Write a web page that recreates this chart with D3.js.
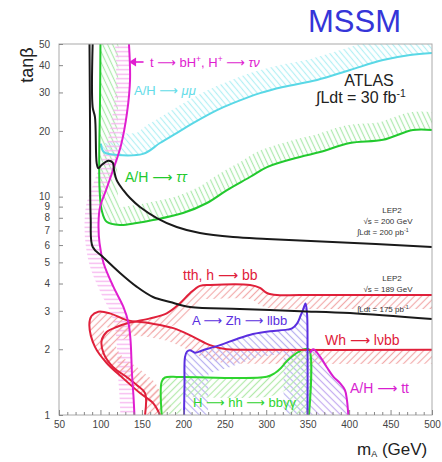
<!DOCTYPE html>
<html><head><meta charset="utf-8">
<script src="https://cdn.jsdelivr.net/npm/d3@7"></script>
<style>body{margin:0;background:#fff;} svg{display:block;font-family:"Liberation Sans",Arial,sans-serif;}</style>
</head><body><svg id="c" width="442" height="462"></svg>
<script>
const xTicks = [50,100,150,200,250,300,350,400,450,500];
const yTicks = [1,2,3,4,5,6,7,8,9,10,20,30,40,50];

const lep200 = [[90.6,50],[90.6,25.7],[93.4,23.1],[95.5,14.2],[97.4,13.5],[101.5,13.96],[109.5,14.6],[114.8,14.3],[116.4,13.2],[119.6,11.9],[127.6,10.7],[135.7,9.85],[147.7,8.96],[168,7.98],[192,7.26],[220,6.81],[260,6.53],[301,6.40],[380,6.2],[500,5.88]];
const lep189 = [[86.8,50],[87.5,20],[88.2,8],[90.7,5.88],[103,5.29],[123.6,4.47],[144,3.86],[163.4,3.47],[184,3.29],[208,3.12],[268,3.06],[341,2.99],[401,2.93],[500,2.75]];
const muMu = [[100.5,17.5],[103,16.2],[106.7,15.8],[151.3,15.7],[171.8,17.6],[192.4,19.6],[211.7,21.7],[240.6,24.9],[259.9,26.8],[292.5,29.8],[320.2,31.8],[361.3,34.2],[401,38],[440.9,42.2],[473.5,44.5],[500,45.5]];
const tauTau = [[100,50],[99.5,27.7],[98.5,15],[99,10.7],[101.5,8.68],[107.5,7.67],[123.6,7.41],[143.7,7.57],[163.4,7.81],[199.6,8.41],[228.5,9.35],[252.7,10.72],[280.4,12.3],[301,13.66],[340.7,15.2],[364.9,16],[401,17.6],[440.9,18.2],[477,20.2],[500,20.2]];
const chargedH = [[134.4,50],[135.7,34.2],[132,24.1],[124.8,17.2],[115.1,13.2],[106.7,10.7],[99.5,8.96],[97.7,7.57],[98.9,6.13],[103.7,4.97],[115.7,3.86],[127.8,3.12],[133.8,2.64],[136.3,2.2],[138,1.56],[139.9,1.21],[141,1]];
const tthBB = [[153.8,1],[153.8,1.26],[144.1,1.37],[132,1.49],[115.1,1.66],[103.7,1.92],[101.5,2.2],[107.5,2.4],[119.6,2.53],[135.7,2.65],[159.8,2.77],[179.9,2.92],[196,3.25],[208,3.61],[220.1,3.9],[232.2,3.94],[280.4,3.94],[292.5,3.82],[300.9,3.62],[313,3.54],[340.7,3.54],[500,3.54]];
const whBB = [[171.8,1],[163.8,1.13],[147.7,1.26],[127.6,1.47],[107.5,1.73],[93.4,2.05],[86.6,2.58],[89.2,2.84],[97.4,2.97],[111.5,2.92],[131.7,2.72],[159.8,2.63],[187.9,2.5],[212,2.28],[232.2,2.09],[252.3,2.0],[268.4,1.99],[500,1.99]];
const zhBB = [[200.8,1],[201.4,1.37],[202,1.84],[204.4,1.95],[208,1.98],[214,1.93],[223.7,1.98],[244.2,2.09],[264.7,2.23],[284,2.35],[304.6,2.42],[325.1,2.46],[331.1,2.49],[337.1,2.62],[341.3,2.84],[344.4,3.03],[347.4,3.24],[349.2,2.93],[349.8,2.45],[349.8,1]];
const hhBBgg = [[173.9,1],[173.9,1.42],[177.9,1.485],[196,1.493],[300.6,1.497],[310.6,1.557],[317.8,1.641],[325.1,1.767],[332.7,1.873],[338.7,1.943],[344.7,1.994],[351.6,1.994],[351.6,1]];
const ttbar = [[352.8,1],[352.8,1.92],[356.8,2.0],[364.9,1.85],[372.9,1.66],[380.9,1.5],[389,1.4],[395,1.3],[397.4,1.17],[399,1]];

const svg = d3.select("#c");
const x = d3.scaleLinear().domain([50,500]).range([59,432]);
const y = d3.scaleLog().domain([1,50]).range([415,44]);
const defs = svg.append("defs");

function pattern(id,color,angle,gap,sw){
  const p=defs.append("pattern").attr("id",id).attr("patternUnits","userSpaceOnUse")
    .attr("width",gap).attr("height",gap).attr("patternTransform",`rotate(${angle})`);
  p.append("line").attr("x1",gap/2).attr("y1",0).attr("x2",gap/2).attr("y2",gap).attr("stroke",color).attr("stroke-width",sw);
}
pattern("pCyan","#b4f0f4",-40,4.5,1.2);
pattern("pGreen","#ade9ad",-25,4.5,1.2);
pattern("pMag","#f6b4ee",90,4.5,1.3);
pattern("pRed","#f2acac",45,5,1.2);
pattern("pBlue","#b8b0f0",-45,5,1.2);
pattern("pTT","#c4acf0",-45,5,1.2);
pattern("pHH","#b4eaac",45,5,1.2);

defs.append("clipPath").attr("id","frame").append("rect").attr("x",59).attr("y",44).attr("width",373).attr("height",371);

const line = d3.line().x(d=>x(d[0])).y(d=>y(d[1])).curve(d3.curveCatmullRom.alpha(0.5));
const P = d=>`${x(d[0])},${y(d[1])}`;

const plot = svg.append("g").attr("clip-path","url(#frame)");
const bands = [
  {id:"cMu",curve:muMu,extra:[[500,50],[100.5,50]],pat:"pCyan",w:22},
  {id:"cTau",curve:tauTau,extra:[[500,50]],pat:"pGreen",w:18},
  {id:"cHpm",curve:chargedH,extra:[[50,1],[50,50]],pat:"pMag",w:14},
  {id:"cTth",curve:tthBB,extra:[[500,1]],pat:"pRed",w:14},
  {id:"cWh",curve:whBB,extra:[[500,1]],pat:"pRed",w:14},
  {id:"cZh",curve:zhBB,extra:[],pat:"pBlue",w:24},
  {id:"cHh",curve:hhBBgg,extra:[],pat:"pHH",w:20},
  {id:"cTt",curve:ttbar,extra:[],pat:"pTT",w:30}
];
bands.forEach(b=>{
  defs.append("clipPath").attr("id",b.id).append("path")
    .attr("d", line(b.curve) + b.extra.map(p=>"L"+P(p)).join("") + "Z");
  plot.append("g").attr("clip-path",`url(#${b.id})`).append("path")
    .attr("d", line(b.curve)).attr("fill","none").attr("stroke",`url(#${b.pat})`)
    .attr("stroke-width",2*b.w).attr("stroke-linejoin","round");
});

const curves = [
  {d:muMu,c:"#5ad8e6"},
  {d:tauTau,c:"#22c92e"},
  {d:hhBBgg,c:"#2ed42e"},
  {d:tthBB,c:"#e0203a"},
  {d:whBB,c:"#e0203a"},
  {d:zhBB,c:"#5a2ee0"},
  {d:ttbar.slice(1),c:"#d81ed0"},
  {d:chargedH,c:"#e01ed0"},
  {d:lep200,c:"#1a1a1a"},
  {d:lep189,c:"#1a1a1a"}
];
curves.forEach(k=>{
  plot.append("path").attr("d",line(k.d)).attr("fill","none").attr("stroke",k.c)
    .attr("stroke-width",2).attr("stroke-linejoin","round");
});

// frame
svg.append("rect").attr("x",59).attr("y",44).attr("width",373).attr("height",371)
  .attr("fill","none").attr("stroke","#aaa").attr("stroke-width",1);

// axes
const xa = svg.append("g").attr("transform","translate(0,415)")
  .call(d3.axisBottom(x).tickValues(d3.range(50,501,10)).tickSize(-3).tickPadding(6)
    .tickFormat(d=> xTicks.includes(d)? d : ""));
xa.select(".domain").remove();
xa.selectAll(".tick line").attr("stroke","#888").attr("y2",d=>xTicks.includes(d)?-5:-3);
xa.selectAll(".tick text").attr("font-size",10).attr("fill","#444").attr("font-family","Liberation Sans, Arial, sans-serif");

const ya = svg.append("g").attr("transform","translate(59,0)")
  .call(d3.axisLeft(y).tickValues(yTicks).tickSize(-4).tickPadding(9).tickFormat(d3.format("d")));
ya.select(".domain").remove();
ya.selectAll(".tick line").attr("stroke","#888");
ya.selectAll(".tick text").attr("font-size",10).attr("fill","#444").attr("font-family","Liberation Sans, Arial, sans-serif");

// titles
svg.append("text").attr("x",308).attr("y",32).attr("font-size",31).attr("fill","#3535d8").text("MSSM");
svg.append("text").attr("transform","translate(33,65) rotate(-90)").attr("text-anchor","middle")
  .attr("font-size",18).attr("fill","#222").text("tanβ");
const xt = svg.append("text").attr("x",357).attr("y",455).attr("font-size",17).attr("fill","#222");
xt.append("tspan").text("m");
xt.append("tspan").attr("font-size",9).attr("dy",2).text("A");
xt.append("tspan").attr("dy",-2).text(" (GeV)");

// labels
const AR = "⟶";
function label(xp,yp,size,color,parts,anchor){
  const t=svg.append("text").attr("x",xp).attr("y",yp).attr("font-size",size).attr("fill",color)
    .attr("text-anchor",anchor||"start");
  parts.forEach(p=>{
    const s=t.append("tspan").text(p.t);
    if(p.i) s.attr("font-style","italic");
    if(p.a) s.attr("font-family","DejaVu Sans");
    if(p.sup){ s.attr("font-size",size*0.65).attr("dy",-size*0.4); }
    if(p.back){ s.attr("dy",size*0.4); }
  });
  return t;
}
// arrow for charged Higgs
svg.append("line").attr("x1",x(137)).attr("y1",62).attr("x2",x(152)).attr("y2",62).attr("stroke","#e01ed0").attr("stroke-width",1.6);
svg.append("path").attr("d",`M${x(134.5)},62 l7,-4.5 v9 Z`).attr("fill","#e01ed0");
label(150,67,13,"#e01ed0",[{t:"t "},{t:AR,a:true},{t:" bH"},{t:"+",sup:true},{t:", H",back:true},{t:"+",sup:true},{t:" ",back:true},{t:AR,a:true},{t:" "},{t:"τν",i:true}]);
label(134,95,13,"#62dce8",[{t:"A/H  "},{t:AR,a:true},{t:"  "},{t:"μμ",i:true}]);
label(125,182,14,"#22c92e",[{t:"A/H  "},{t:AR,a:true},{t:"  "},{t:"ττ",i:true}]);
label(369,86,16,"#222",[{t:"ATLAS"}],"middle");
label(316,103,16,"#222",[{t:"∫Ldt = 30 fb"},{t:"-1",sup:true}]);
label(392,213,8,"#333",[{t:"LEP2"}],"middle");
label(388,224,8,"#333",[{t:"√s = 200 GeV"}],"middle");
label(357,235,8,"#333",[{t:"∫Ldt = 200 pb"},{t:"-1",sup:true}]);
label(392,281,8,"#333",[{t:"LEP2"}],"middle");
label(388,292,8,"#333",[{t:"√s = 189 GeV"}],"middle");
label(357,312,8,"#333",[{t:"∫Ldt = 175 pb"},{t:"-1",sup:true}]);
label(183,280,14,"#e0203a",[{t:"tth, h "},{t:AR,a:true},{t:" bb"}]);
label(192,325,13,"#5a2ee0",[{t:"A "},{t:AR,a:true},{t:" Zh "},{t:AR,a:true},{t:" llbb"}]);
label(325,345,14,"#e0203a",[{t:"Wh "},{t:AR,a:true},{t:" lνbb"}]);
label(193,407,13,"#2ed42e",[{t:"H "},{t:AR,a:true},{t:" hh "},{t:AR,a:true},{t:" bbγγ"}]);
label(350,393,14,"#d81ed0",[{t:"A/H  "},{t:AR,a:true},{t:"  tt"}]);
</script></body></html>
